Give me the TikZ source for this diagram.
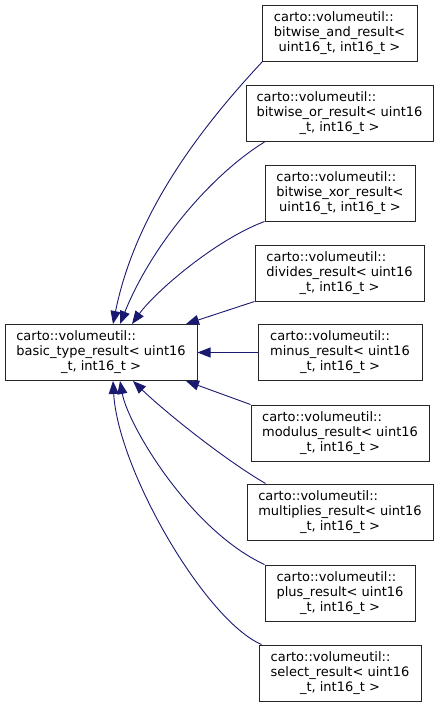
\documentclass[tikz,border=0pt]{standalone}
\usepackage{fontspec}
\setmainfont{DejaVu Sans}
\usetikzlibrary{arrows.meta,calc}
\definecolor{edgeblue}{HTML}{191970}
\newcommand{\lbl}[3]{\begin{tabular}{@{}l@{}}#1\\#2\\\multicolumn{1}{@{}c@{}}{#3}\end{tabular}}
\tikzset{
  box/.style={draw=black!85, fill=white, line width=1pt, minimum height=56pt,
    inner sep=0pt, font=\fontsize{13}{15}\selectfont},
  inh/.style={draw=edgeblue, line width=0.9pt,
    -{Triangle[length=13pt,width=10pt,fill=edgeblue]}}
}
\begin{document}
\begin{tikzpicture}[x=1pt,y=-1pt]
\useasboundingbox (0,0) rectangle (440,707);
\node[box, minimum width=192pt] (base) at (101,352.5)
  {\lbl{carto::volumeutil::}{basic\_type\_result< uint16}{\_t, int16\_t >}};
\node[box, minimum width=155pt] (and) at (339.5,33)
  {\lbl{carto::volumeutil::}{bitwise\_and\_result<}{uint16\_t, int16\_t >}};
\node[box, minimum width=187pt] (or) at (339.5,113.5)
  {\lbl{carto::volumeutil::}{bitwise\_or\_result< uint16}{\_t, int16\_t >}};
\node[box, minimum width=150pt] (xor) at (340,193)
  {\lbl{carto::volumeutil::}{bitwise\_xor\_result<}{uint16\_t, int16\_t >}};
\node[box, minimum width=169pt] (div) at (339.5,273)
  {\lbl{carto::volumeutil::}{divides\_result< uint16}{\_t, int16\_t >}};
\node[box, minimum width=164pt] (minus) at (340,352.5)
  {\lbl{carto::volumeutil::}{minus\_result< uint16}{\_t, int16\_t >}};
\node[box, minimum width=178pt] (mod) at (340,433)
  {\lbl{carto::volumeutil::}{modulus\_result< uint16}{\_t, int16\_t >}};
\node[box, minimum width=186pt] (mul) at (340,512)
  {\lbl{carto::volumeutil::}{multiplies\_result< uint16}{\_t, int16\_t >}};
\node[box, minimum width=150pt] (plus) at (340,593)
  {\lbl{carto::volumeutil::}{plus\_result< uint16}{\_t, int16\_t >}};
\node[box, minimum width=162pt] (sel) at (340,673)
  {\lbl{carto::volumeutil::}{select\_result< uint16}{\_t, int16\_t >}};
% edges
\draw[inh] ($(and.south west)+(1,0)$) .. controls (209,119) and (136.5,207) .. ($(base.north)+(12,0)$);
\draw[inh] ($(or.south west)+(19,0)$) .. controls (214,173) and (153.4,241.4) .. ($(base.north)+(19,0)$);
\draw[inh] ($(xor.south west)+(0,0)$) .. controls (215,240) and (155,292) .. ($(base.north)+(31,0)$);
\draw[inh] (div.south west) -- ($(base.north)+(85,0)$);
\draw[inh] (minus.west) -- (base.east);
\draw[inh] (mod.north west) -- ($(base.south)+(85,0)$);
\draw[inh] ($(mul.north west)+(19,0)$) .. controls (222,458) and (163,410) .. ($(base.south)+(32,0)$);
\draw[inh] (plus.north west) .. controls (190,530) and (128,425) .. ($(base.south)+(19,0)$);
\draw[inh] ($(sel.north west)+(3,0)$) .. controls (205,620) and (118,470) .. ($(base.south)+(12,0)$);
\end{tikzpicture}
\end{document}
